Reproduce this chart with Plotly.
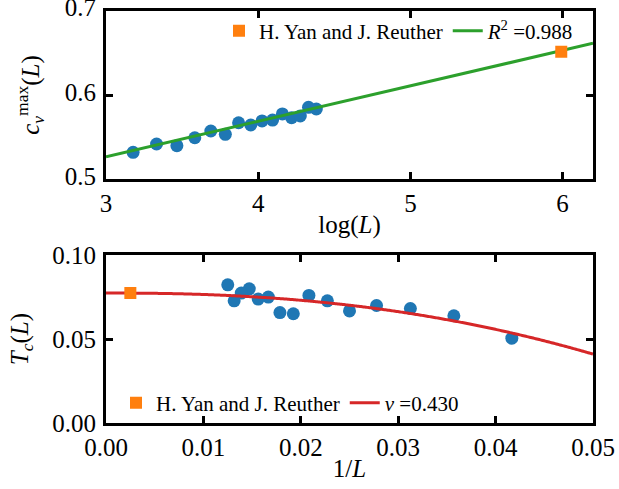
import numpy as np
import plotly.graph_objects as go

# ---------------- data ----------------
L_sizes = [24, 28, 32, 36, 40, 44, 48, 52, 56, 60, 64, 68, 72, 76, 80]
cv_max = [0.532, 0.5419, 0.5399, 0.5493, 0.5573, 0.5534, 0.5671, 0.5644,
          0.5692, 0.5703, 0.5775, 0.5731, 0.5751, 0.5854, 0.5834]
Tc_vals = [0.0506, 0.0639, 0.0682, 0.0700, 0.0668, 0.0728, 0.0760, 0.0651,
           0.0658, 0.0750, 0.0738, 0.0799, 0.0774, 0.0728, 0.0823]

ref_L = [400]
ref_cv = [0.6514]
ref_Tc = [0.0774]
ref_label = "H. Yan and J. Reuther"

# linear fit of c_v^max vs log(L) (read endpoints)
fit_logL = [3.0, 6.2]
fit_cv = [0.5268, 0.6613]
r2_label = "<i>R</i><sup>2</sup> =0.988"

# finite-size fit T_c(L) = Tc_inf - A (1/L)^(1/nu)
nu = 0.430
Tc_inf = 0.0774
A_amp = 38.5
nu_label = "<i>ν</i> =0.430"

logL = np.log(np.array(L_sizes, dtype=float))
invL = 1.0 / np.array(L_sizes, dtype=float)
ref_logL = np.log(np.array(ref_L, dtype=float))
ref_invL = 1.0 / np.array(ref_L, dtype=float)
fit_x = np.linspace(0.0, 0.05, 400)
fit_T = Tc_inf - A_amp * fit_x ** (1.0 / nu)

BLUE = "#1f77b4"
ORANGE = "#ff7f0e"
GREEN = "#2ca02c"
RED = "#d62728"
FONT = "Liberation Serif"

fig = go.Figure()

# ---- top panel ----
fig.add_trace(go.Scatter(x=logL, y=cv_max, mode="markers", showlegend=False,
                         marker=dict(color=BLUE, size=13), xaxis="x", yaxis="y"))
fig.add_trace(go.Scatter(x=fit_logL, y=fit_cv, mode="lines", name=r2_label,
                         line=dict(color=GREEN, width=3), legend="legend",
                         legendrank=2, xaxis="x", yaxis="y"))
fig.add_trace(go.Scatter(x=ref_logL, y=ref_cv, mode="markers", name=ref_label,
                         marker=dict(color=ORANGE, size=12, symbol="square"),
                         legend="legend", legendrank=1, xaxis="x", yaxis="y"))

# ---- bottom panel ----
fig.add_trace(go.Scatter(x=invL, y=Tc_vals, mode="markers", showlegend=False,
                         marker=dict(color=BLUE, size=13), xaxis="x2", yaxis="y2"))
fig.add_trace(go.Scatter(x=fit_x, y=fit_T, mode="lines", name=nu_label,
                         line=dict(color=RED, width=3, simplify=False), legend="legend2",
                         legendrank=2, xaxis="x2", yaxis="y2"))
fig.add_trace(go.Scatter(x=ref_invL, y=ref_Tc, mode="markers", name=ref_label,
                         marker=dict(color=ORANGE, size=12, symbol="square"),
                         legend="legend2", legendrank=1, xaxis="x2", yaxis="y2"))

W, H = 619, 489
axis_common = dict(showline=True, linecolor="black", linewidth=3, mirror="allticks",
                   ticks="inside", ticklen=7, tickwidth=3, tickcolor="black",
                   showgrid=False, zeroline=False, automargin=False,
                   ticklabeloverflow="allow",
                   tickfont=dict(family=FONT, size=25, color="black"),
                   title_font=dict(family=FONT, size=25, color="black"))

fig.update_layout(
    width=W, height=H,
    margin=dict(l=0, r=0, t=0, b=0),
    paper_bgcolor="white", plot_bgcolor="white",
    font=dict(family=FONT, color="black"),
    xaxis=dict(domain=[106 / W, 593 / W], range=[3, 6.2], tickvals=[3, 4, 5, 6],
               ticktext=["3", "4", "5", "6"], anchor="y",
               title=dict(text="log(<i>L</i>)", standoff=0), **axis_common),
    yaxis=dict(domain=[1 - 179.3 / H, 1 - 10.7 / H], range=[0.5, 0.7],
               tickvals=[0.5, 0.6, 0.7], ticktext=["0.5", "0.6", "0.7"], anchor="x",
               ticklabelstandoff=2, ticklabelshift=-3,
               title=dict(text="<i>c</i><sub><i>v</i></sub><sup>max</sup>(<i>L</i>)", standoff=19),
               **axis_common),
    xaxis2=dict(domain=[106 / W, 593 / W], range=[0, 0.05],
                tickvals=[0, 0.01, 0.02, 0.03, 0.04, 0.05],
                ticktext=["0.00", "0.01", "0.02", "0.03", "0.04", "0.05"], anchor="y2",
                title=dict(text="1/<i>L</i>", standoff=0), **axis_common),
    yaxis2=dict(domain=[1 - 423.3 / H, 1 - 255 / H], range=[0, 0.1],
                tickvals=[0, 0.05, 0.1], ticktext=["0.00", "0.05", "0.10"], anchor="x2",
                ticklabelstandoff=2,
                title=dict(text="<i>T</i><sub><i>c</i></sub>(<i>L</i>)", standoff=17),
                **axis_common),
    legend=dict(orientation="h", x=219 / W, y=1 - 31 / H, xanchor="left", yanchor="middle",
                bgcolor="rgba(0,0,0,0)", font=dict(family=FONT, size=21, color="black"),
                traceorder="normal"),
    legend2=dict(orientation="h", x=116 / W, y=1 - 403 / H, xanchor="left", yanchor="middle",
                 bgcolor="rgba(0,0,0,0)", font=dict(family=FONT, size=21, color="black"),
                 traceorder="normal"),
)

fig.write_html("out.html", config={"displayModeBar": False},
               post_script="document.body.style.margin='0px';")
